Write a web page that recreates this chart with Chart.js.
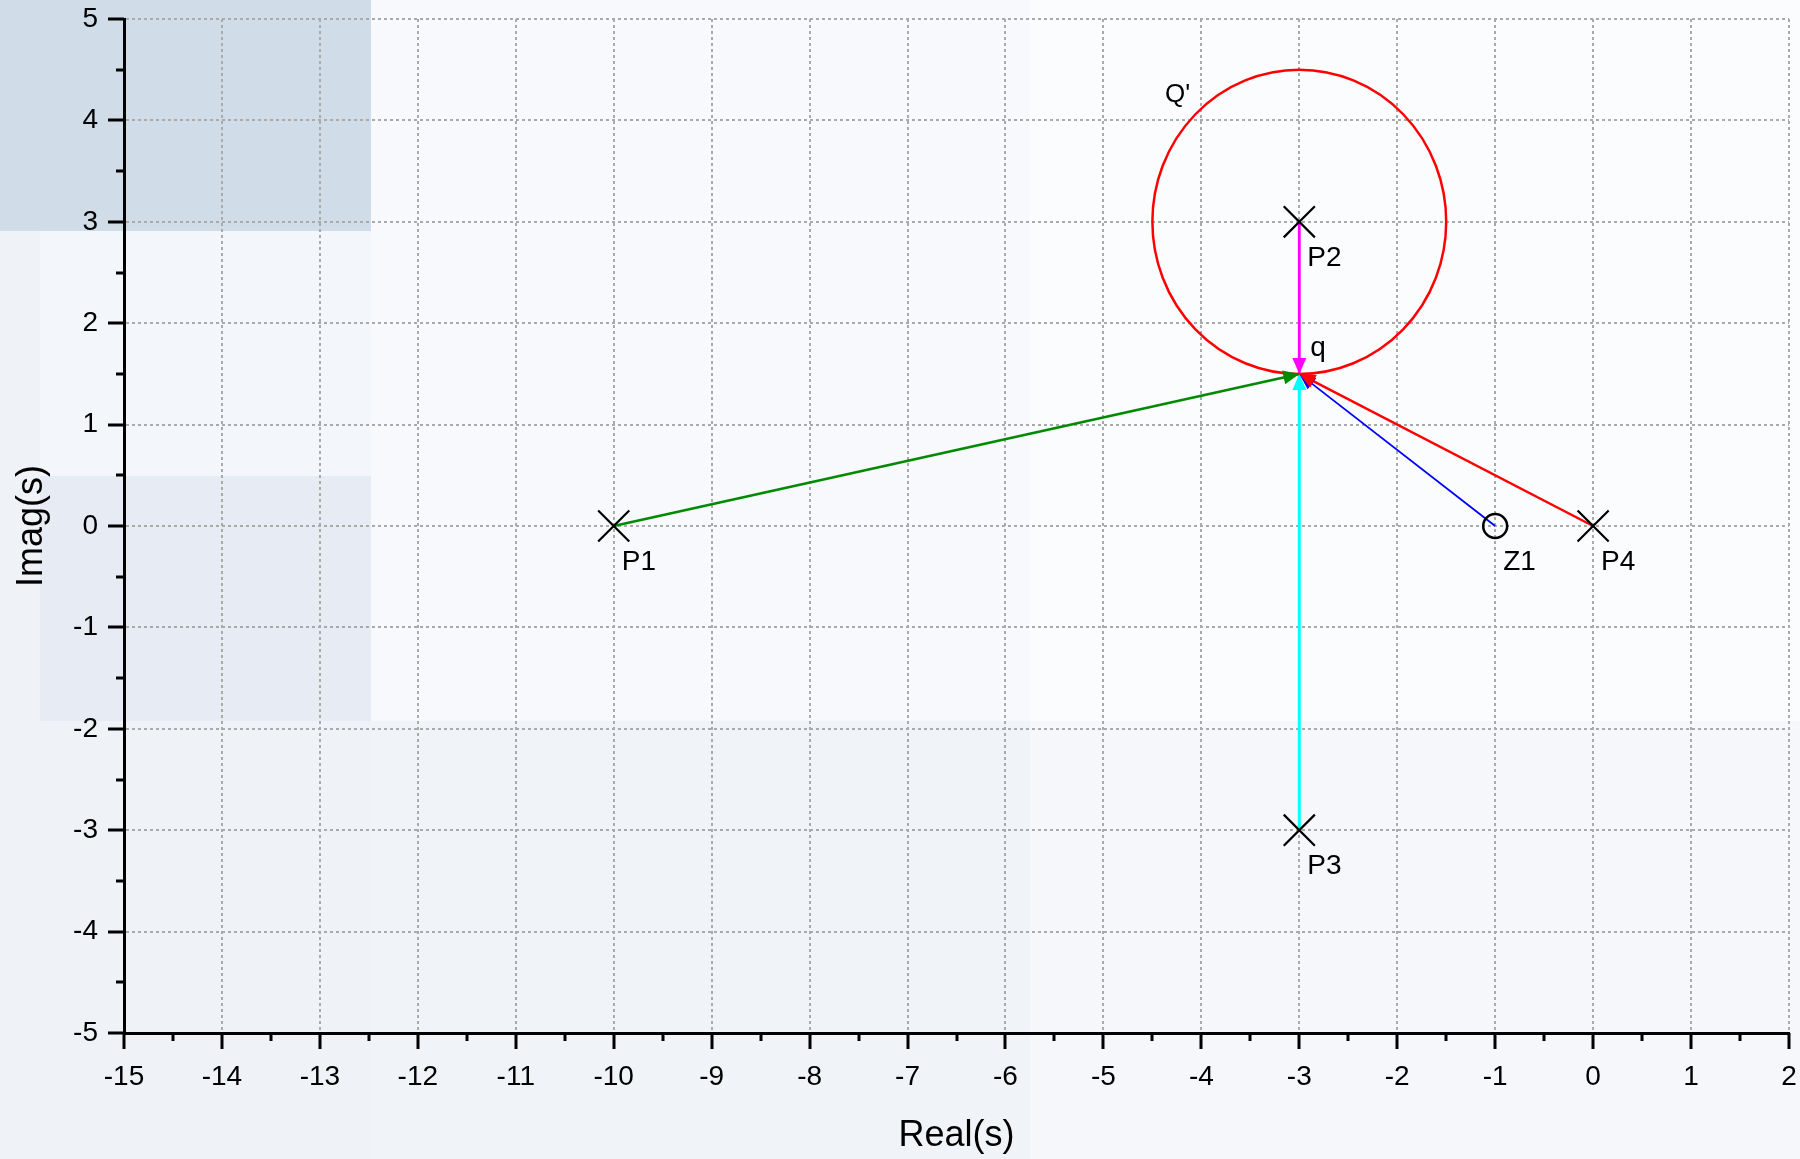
<!DOCTYPE html>
<html>
<head>
<meta charset="utf-8">
<title>Pole-zero map</title>
<script src="https://cdn.jsdelivr.net/npm/chart.js@4.4.1/dist/chart.umd.min.js"></script>
<style>
  html, body { margin: 0; padding: 0; background: #eff3f8; }
  canvas { display: block; }
</style>
</head>
<body>
<canvas id="plane" width="1800" height="1159"></canvas>
<script>
// Poles and zeros of G(s) in the s-plane
const poleRe = [-10, -3, -3, 0];
const poleIm = [0, 3, -3, 0];
const poleNames = ['P1', 'P2', 'P3', 'P4'];
const zeroRe = [-1];
const zeroIm = [0];
const zeroNames = ['Z1'];

// Test point q and the circle Q' around P2 that passes through it
const testPoint = [-3, 1.5];
const testName = 'q';
const circleCenter = [-3, 3];
const circleRadius = 1.5;
const circleName = "Q'";
const circleNameAt = [-4.37, 4.18];

// Vectors drawn from each singularity to q
const vectorFrom = ['P1', 'P2', 'P3', 'Z1', 'P4'];
const vectorColors = ['#008a00', '#ff00ff', '#00ffff', '#0000ff', '#ff0000'];
const vectorWidths = [2.6, 2.8, 3, 1.8, 2.5];

// Axis ticks
const xTickValues = [-15, -14, -13, -12, -11, -10, -9, -8, -7, -6, -5, -4, -3, -2, -1, 0, 1, 2];
const yTickValues = [-5, -4, -3, -2, -1, 0, 1, 2, 3, 4, 5];

const FONT = "'Liberation Sans', Arial, Helvetica, sans-serif";

const allPoints = {};
poleNames.forEach((n, i) => { allPoints[n] = { x: poleRe[i], y: poleIm[i] }; });
zeroNames.forEach((n, i) => { allPoints[n] = { x: zeroRe[i], y: zeroIm[i] }; });
const q = { x: testPoint[0], y: testPoint[1] };

const datasets = [
  {
    label: 'poles',
    names: poleNames,
    data: poleNames.map(n => allPoints[n]),
    showLine: false,
    pointStyle: 'crossRot',
    pointRadius: 22,
    pointBorderWidth: 2.2,
    borderColor: '#000',
    backgroundColor: 'transparent',
    order: 0
  },
  {
    label: 'zeros',
    names: zeroNames,
    data: zeroNames.map(n => allPoints[n]),
    showLine: false,
    pointStyle: 'circle',
    pointRadius: 12,
    pointBorderWidth: 2.5,
    borderColor: '#000',
    backgroundColor: 'transparent',
    order: 0
  }
];
vectorFrom.forEach((n, i) => {
  datasets.push({
    label: n + ' \u2192 ' + testName,
    vector: true,
    data: [allPoints[n], q],
    showLine: true,
    borderColor: vectorColors[i],
    backgroundColor: vectorColors[i],
    borderWidth: vectorWidths[i],
    pointRadius: 0,
    fill: false,
    order: 1
  });
});

// Screen backdrop behind the axes
const backdrop = {
  id: 'backdrop',
  beforeDraw(chart) {
    const ctx = chart.ctx;
    const fill = (c, x, y, w, h) => { ctx.fillStyle = c; ctx.fillRect(x, y, w, h); };
    ctx.save();
    fill('#eff3f8', 0, 0, chart.width, chart.height);
    fill('#d0dce8', 0, 0, 371, 231);
    fill('#f3f6fa', 40, 231, 331, 245);
    fill('#e7ecf4', 40, 476, 331, 245);
    fill('#f7f9fc', 371, 0, 659, 721);
    fill('#fbfcfe', 1030, 0, 770, 721);
    fill('#f0f3f8', 371, 721, 659, 438);
    fill('#f5f7fb', 1030, 721, 770, 438);
    ctx.restore();
  }
};

// Major and minor tick marks on the outside of both axes
const tickMarks = {
  id: 'tickMarks',
  afterDraw(chart) {
    const ctx = chart.ctx;
    const { left, bottom } = chart.chartArea;
    const xs = chart.scales.x, ys = chart.scales.y;
    const withMinor = vals => {
      const out = [];
      vals.forEach((v, i) => {
        out.push([v, true]);
        if (i < vals.length - 1) out.push([(v + vals[i + 1]) / 2, false]);
      });
      return out;
    };
    ctx.save();
    ctx.strokeStyle = '#000';
    ctx.lineWidth = 3;
    ctx.beginPath();
    withMinor(xTickValues).forEach(([v, major]) => {
      const px = Math.round(xs.getPixelForValue(v));
      ctx.moveTo(px, bottom);
      ctx.lineTo(px, bottom + (major ? 16 : 8));
    });
    withMinor(yTickValues).forEach(([v, major]) => {
      const py = Math.round(ys.getPixelForValue(v));
      ctx.moveTo(left, py);
      ctx.lineTo(left - (major ? 16 : 8), py);
    });
    ctx.stroke();
    ctx.restore();
  }
};

// Circle Q', arrowheads and text labels
const overlays = {
  id: 'overlays',
  afterDatasetsDraw(chart) {
    const ctx = chart.ctx;
    const xs = chart.scales.x, ys = chart.scales.y;
    ctx.save();

    // circle of radius circleRadius (data units) around circleCenter
    const cx = xs.getPixelForValue(circleCenter[0]);
    const cy = ys.getPixelForValue(circleCenter[1]);
    const rx = Math.abs(xs.getPixelForValue(circleCenter[0] + circleRadius) - cx);
    const ry = Math.abs(ys.getPixelForValue(circleCenter[1] + circleRadius) - cy);
    ctx.strokeStyle = '#ff0000';
    ctx.lineWidth = 2.5;
    ctx.beginPath();
    ctx.ellipse(cx, cy, rx, ry, 0, 0, Math.PI * 2);
    ctx.stroke();

    // arrowheads at the q end of every vector
    chart.data.datasets.forEach((ds, i) => {
      if (!ds.vector) return;
      const pts = chart.getDatasetMeta(i).data;
      const a = pts[0], b = pts[1];
      const ang = Math.atan2(b.y - a.y, b.x - a.x);
      const len = 16, half = 7;
      ctx.fillStyle = ds.borderColor;
      ctx.beginPath();
      ctx.moveTo(b.x, b.y);
      ctx.lineTo(b.x - len * Math.cos(ang) + half * Math.sin(ang), b.y - len * Math.sin(ang) - half * Math.cos(ang));
      ctx.lineTo(b.x - len * Math.cos(ang) - half * Math.sin(ang), b.y - len * Math.sin(ang) + half * Math.cos(ang));
      ctx.closePath();
      ctx.fill();
    });

    // names of poles and zeros, below-right of each marker
    ctx.fillStyle = '#000';
    ctx.textAlign = 'left';
    ctx.textBaseline = 'alphabetic';
    ctx.font = '28px ' + FONT;
    chart.data.datasets.forEach((ds, i) => {
      if (!ds.names) return;
      chart.getDatasetMeta(i).data.forEach((el, j) => {
        ctx.fillText(ds.names[j], el.x + 8, el.y + 44);
      });
    });

    // q label
    const qx = xs.getPixelForValue(q.x), qy = ys.getPixelForValue(q.y);
    ctx.fillText(testName, qx + 11, qy - 18);

    // Q' label
    ctx.font = '26px ' + FONT;
    ctx.fillText(circleName, xs.getPixelForValue(circleNameAt[0]), ys.getPixelForValue(circleNameAt[1]));
    ctx.restore();
  }
};

// keep the plot frame where the layout padding puts it (no extra room for edge labels)
const noEdgePadding = s => { s.paddingTop = 0; s.paddingBottom = 0; s.paddingLeft = 0; s.paddingRight = 0; };

const gridCommon = { color: '#aaaaaa', lineWidth: 2, drawTicks: false };
const borderCommon = { display: true, color: '#000', width: 3, dash: [3, 3] };
const tickFont = { family: FONT, size: 28 };
const titleFont = { family: FONT, size: 36 };

new Chart(document.getElementById('plane'), {
  type: 'scatter',
  data: { datasets },
  options: {
    responsive: false,
    animation: false,
    devicePixelRatio: 1,
    events: [],
    layout: { autoPadding: false, padding: { top: 19, right: 11, left: 0, bottom: 0 } },
    plugins: { legend: { display: false }, tooltip: { enabled: false } },
    scales: {
      x: {
        type: 'linear',
        min: -15,
        max: 2,
        afterBuildTicks: s => { s.ticks = xTickValues.map(v => ({ value: v })); },
        afterFit: s => { s.height = 126; noEdgePadding(s); },
        grid: gridCommon,
        border: borderCommon,
        ticks: { color: '#000', font: tickFont, padding: 27, maxRotation: 0, autoSkip: false, callback: v => String(v) },
        title: { display: true, text: 'Real(s)', color: '#000', font: titleFont, padding: { top: 0, bottom: 1 } }
      },
      y: {
        type: 'linear',
        min: -5,
        max: 5,
        afterBuildTicks: s => { s.ticks = yTickValues.map(v => ({ value: v })); },
        afterFit: s => { s.width = 124; noEdgePadding(s); },
        grid: gridCommon,
        border: borderCommon,
        ticks: { color: '#000', font: tickFont, padding: 26, autoSkip: false, callback: v => String(v) },
        title: { display: true, text: 'Imag(s)', color: '#000', font: titleFont, padding: { top: 10, bottom: 0 } }
      }
    }
  },
  plugins: [backdrop, tickMarks, overlays]
});
</script>
</body>
</html>
